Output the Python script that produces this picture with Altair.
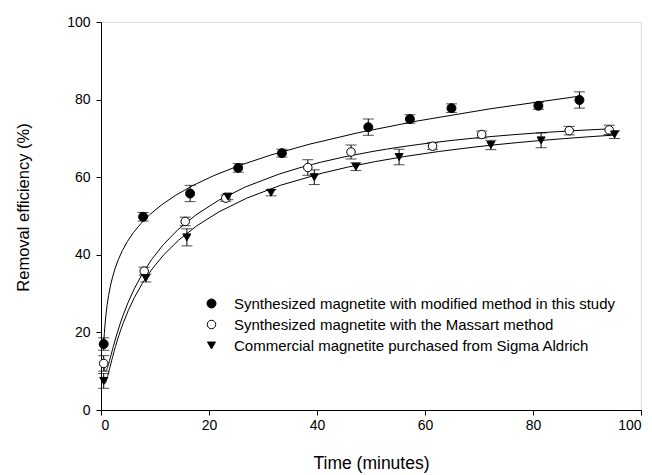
import altair as alt
import pandas as pd

series_names = [
    "Synthesized magnetite with modified method in this study",
    "Synthesized magnetite with the Massart method",
    "Commercial magnetite purchased from Sigma Aldrich",
]

# Series 1: filled circles
t1 = [0.5, 7.8, 16.5, 25.4, 33.5, 49.5, 57.2, 64.9, 81.0, 88.6]
y1 = [17.0, 49.8, 55.8, 62.4, 66.2, 72.9, 75.0, 77.8, 78.4, 79.9]
e1 = [1.6, 1.1, 2.1, 1.1, 1.0, 2.1, 1.1, 1.1, 0.9, 2.1]

# Series 2: open circles
t2 = [0.5, 8.0, 15.6, 23.1, 38.3, 46.3, 61.4, 70.5, 86.7, 94.1]
y2 = [12.0, 35.8, 48.6, 54.6, 62.5, 66.5, 68.0, 71.0, 72.0, 72.2]
e2 = [2.0, 1.0, 1.1, 0.8, 2.0, 1.8, 0.9, 0.9, 1.1, 1.2]

# Series 3: down triangles
t3 = [0.5, 8.3, 15.9, 23.5, 31.5, 39.5, 47.2, 55.2, 72.2, 81.5, 95.1]
y3 = [7.5, 34.0, 44.5, 55.0, 56.0, 60.0, 62.7, 65.2, 68.3, 69.5, 71.0]
e3 = [1.9, 1.0, 2.2, 0.8, 0.8, 1.9, 1.0, 2.0, 1.2, 1.9, 1.0]

x_ticks = [0, 20, 40, 60, 80, 100]
y_ticks = [0, 20, 40, 60, 80, 100]

rows = []
for name, ts, ys, es in zip(series_names, [t1, t2, t3], [y1, y2, y3], [e1, e2, e3]):
    for t, y, e in zip(ts, ys, es):
        rows.append({"series": name, "time": t, "eff": y, "err": e})
df = pd.DataFrame(rows)

FONT = "Liberation Sans"

x_axis = alt.Axis(
    values=x_ticks, title="Time (minutes)", grid=False,
    domainColor="black", tickColor="black", tickSize=5, labelPadding=3,
    labelFont=FONT, labelFontSize=14, labelColor="black",
    titleFont=FONT, titleFontSize=17.5, titleFontWeight="normal", titleColor="black",
    titleX=270, titleY=58, titleBaseline="alphabetic",
)
y_axis = alt.Axis(
    values=y_ticks, title="Removal efficiency (%)", grid=False,
    domainColor="black", tickColor="black", tickSize=5, labelPadding=6,
    labelFont=FONT, labelFontSize=14, labelColor="black",
    titleFont=FONT, titleFontSize=16.5, titleFontWeight="normal", titleColor="black",
    titleX=-78, titleY=185, titleBaseline="middle", titleAngle=-90, titleAlign="center",
)
xscale = alt.Scale(domain=[0, 100], nice=False, zero=False)
yscale = alt.Scale(domain=[0, 100], nice=False)


def X(field="time"):
    return alt.X(f"{field}:Q", scale=xscale, axis=x_axis)


def Y(field):
    return alt.Y(f"{field}:Q", scale=yscale, axis=y_axis)


base = alt.Chart(df)

# smooth fitted curve: cubic regression of efficiency on ln(time)
curves = base.transform_calculate(
    lx="log(datum.time)"
).transform_regression(
    "lx", "eff", method="poly", order=3, groupby=["series"]
).transform_calculate(
    time="exp(datum.lx)"
).mark_line(color="black", strokeWidth=1).encode(
    x=X(), y=Y("eff"), detail="series:N", order="lx:Q"
)

err = base.transform_calculate(
    lo="datum.eff - datum.err", hi="datum.eff + datum.err"
)
bars = err.mark_rule(color="black", strokeWidth=1).encode(
    x=X(), y=Y("lo"), y2="hi:Q"
)
cap_lo = err.mark_tick(color="black", thickness=1, size=11, orient="horizontal").encode(
    x=X(), y=Y("lo")
)
cap_hi = err.mark_tick(color="black", thickness=1, size=11, orient="horizontal").encode(
    x=X(), y=Y("hi")
)

leg = alt.Legend(
    title=None, orient="none", legendX=103, legendY=274, padding=0,
    labelFont=FONT, labelFontSize=15, labelColor="black", labelOffset=15,
    symbolStrokeWidth=1, rowPadding=5, labelLimit=500,
)

points = base.mark_point(filled=True, opacity=1, strokeWidth=1).encode(
    x=X(),
    y=Y("eff"),
    shape=alt.Shape("series:N", scale=alt.Scale(domain=series_names, range=["circle", "circle", "triangle-down"]), legend=leg),
    fill=alt.Fill("series:N", scale=alt.Scale(domain=series_names, range=["black", "white", "black"]), legend=leg),
    stroke=alt.Stroke("series:N", scale=alt.Scale(domain=series_names, range=["black", "black", "black"]), legend=leg),
    size=alt.Size("series:N", scale=alt.Scale(domain=series_names, range=[80, 64, 130]), legend=leg),
)

chart = alt.layer(curves, bars, cap_lo, cap_hi, points).properties(
    width=540, height=388,
    autosize=alt.AutoSizeParams(type="none"),
    padding={"left": 101, "top": 22, "right": 11, "bottom": 65},
).configure_view(
    stroke="black", strokeWidth=1
).configure(background="white")

chart.save("out.html", embed_options={"renderer": "svg", "actions": False})
